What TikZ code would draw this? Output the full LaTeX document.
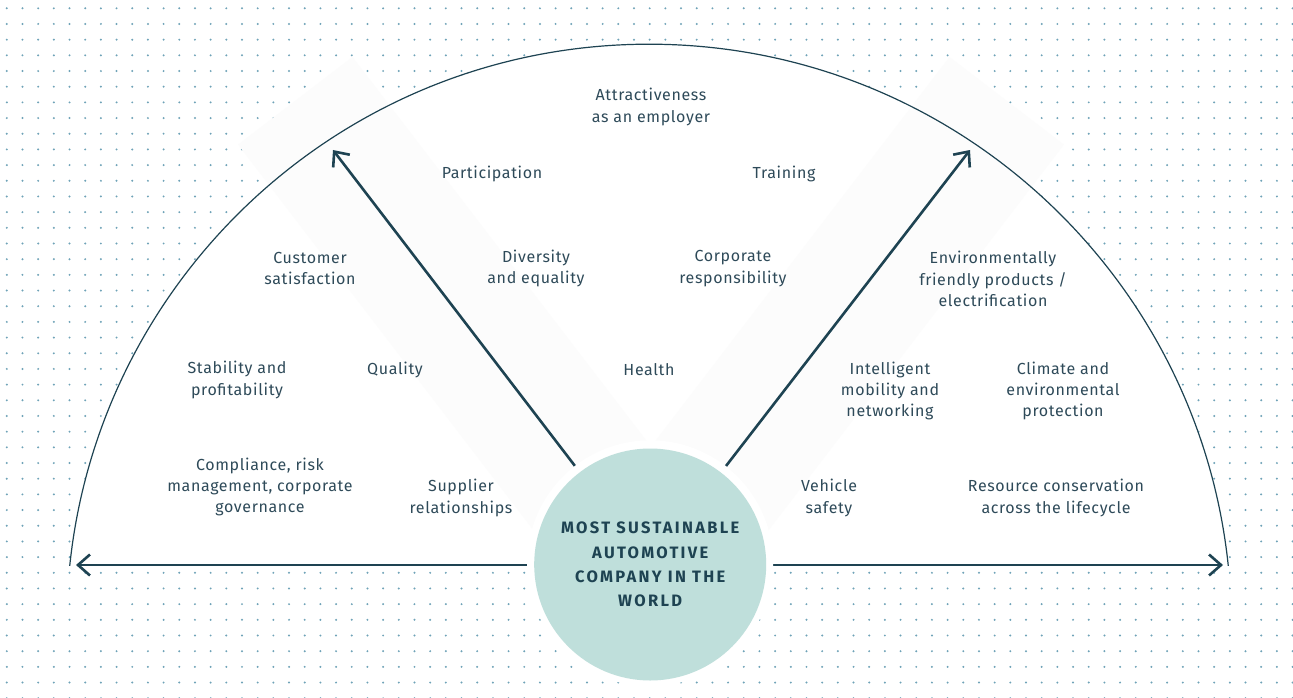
\documentclass[tikz,border=0pt]{standalone}
\usepackage{fontspec}
\setmainfont[LetterSpace=4]{Fira Sans}
\newfontfamily\circfont[LetterSpace=14]{Fira Sans}
\usetikzlibrary{arrows.meta}
\definecolor{ink}{HTML}{1E4352}
\definecolor{txt}{HTML}{2E4A59}
\definecolor{dotc}{HTML}{6FA3B8}
\definecolor{bandc}{HTML}{FCFCFC}
\definecolor{disc}{HTML}{BFDFDB}
\begin{document}
\begin{tikzpicture}[x=1pt,y=-1pt,
  lbl/.style={align=center, text=txt, font=\fontsize{16}{21.3}\selectfont, inner sep=0pt},
  arr/.style={draw=ink, line width=2.6pt, -{Straight Barb[length=12pt,width=21pt]}},
  dotstyle/.style={fill=dotc},
]
\useasboundingbox (0,0) rectangle (1293,698);
\fill[white] (0,0) rectangle (1293,698);
% dotted background
\foreach \i in {0,...,82}{
  \foreach \j in {0,...,44}{
    \fill[dotstyle] ({6.8+15.68*\i},{8.3+15.68*\j}) circle[radius=1.1];
  }
}
% white segment
\begin{scope}
  \clip (0,0) rectangle (1293,565);
  \fill[white] (649,626.6) circle[radius=582.4];
\end{scope}
% faint bands
\fill[bandc] (352.5,57.0) -- (238.1,144.6) -- (590.8,605.1) -- (705.2,517.5) -- cycle;
\fill[bandc] (949.5,57.0) -- (1063.9,144.6) -- (711.2,605.1) -- (596.8,517.5) -- cycle;
% arc
\begin{scope}
  \clip (0,0) rectangle (1293,565.5);
  \draw[ink, line width=1.2pt] (649,626.6) circle[radius=582.4];
\end{scope}
% labels
\begin{scope}[yshift=-2pt]
\node[lbl] (attr) at (651,105) {Attractiveness\\as an employer};
\node[lbl] (part) at (492,172) {Participation};
\node[lbl] (train) at (784,172) {Training};
\node[lbl] (cust) at (310,266.5) {Customer\\satisfaction};
\node[lbl] (div) at (536,266.5) {Diversity\\and equality};
\node[lbl] (corp) at (733,266.5) {Corporate\\responsibility};
\node[lbl] (env) at (993,277) {Environmentally\\friendly products /\\electrification};
\node[lbl] (stab) at (237,378) {Stability and\\profitability};
\node[lbl] (qual) at (395,368) {Quality};
\node[lbl] (health) at (649,368) {Health};
\node[lbl] (intel) at (890,389) {Intelligent\\mobility and\\networking};
\node[lbl] (clim) at (1063,389) {Climate and\\environmental\\protection};
\node[lbl] (compl) at (260,485) {Compliance, risk\\management, corporate\\governance};
\node[lbl] (supp) at (461,496) {Supplier\\relationships};
\node[lbl] (veh) at (829,496) {Vehicle\\safety};
\node[lbl] (res) at (1056,496) {Resource conservation\\across the lifecycle};
\end{scope}
% arrow endpoints
\coordinate (lbase) at (575,466);
\coordinate (ltip) at (333,150);
\coordinate (rbase) at (726,466);
\coordinate (rtip) at (970,150);
\coordinate (hlbase) at (527,565);
\coordinate (hltip) at (76,565);
\coordinate (hrbase) at (773,565);
\coordinate (hrtip) at (1223,565);
\draw[arr] (lbase) -- (ltip);
\draw[arr] (rbase) -- (rtip);
\draw[arr] (hlbase) -- (hltip);
\draw[arr] (hrbase) -- (hrtip);
% central disc
\fill[white] (650.2,563.3) circle[radius=123];
\node[circle, fill=disc, minimum size=232pt, inner sep=0pt, align=center, text=ink,
  font=\circfont\bfseries\fontsize{16.5}{24.4}\selectfont] (core) at (650.2,564.5)
  {MOST SUSTAINABLE\\AUTOMOTIVE\\COMPANY IN THE\\WORLD};
\end{tikzpicture}
\end{document}
